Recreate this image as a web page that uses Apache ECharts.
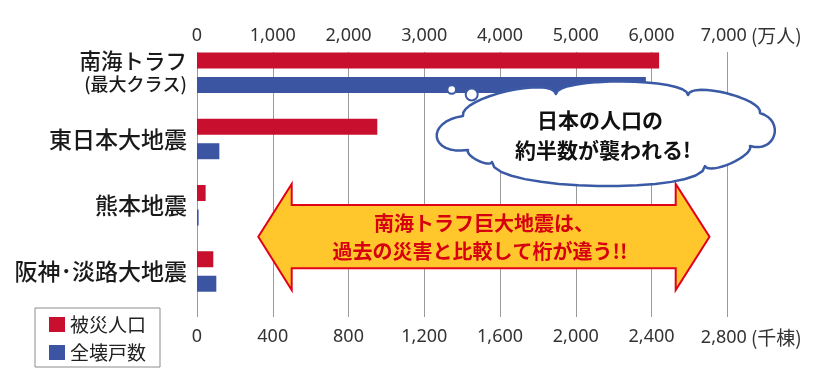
<!DOCTYPE html>
<html><head><meta charset="utf-8">
<script src="https://cdn.jsdelivr.net/npm/echarts@6/dist/echarts.min.js"></script>
<style>html,body{margin:0;padding:0;background:#fff}#c{width:840px;height:390px}</style>
</head><body><div id="c"></div>
<script>
// ---- data ----
const categories = ['南海トラフ\n(最大クラス)', '東日本大地震', '熊本地震', '阪神･淡路大地震'];
const seriesNames = ['被災人口', '全壊戸数'];
const affectedPopulation = [6100, 2380, 114, 215];   // 万人
const collapsedBuildings = [2370, 118, 8.6, 102];    // 千棟
const popTicks = [0, 1000, 2000, 3000, 4000, 5000, 6000, 7000];
const bldTicks = [0, 400, 800, 1200, 1600, 2000, 2400, 2800];
const popUnit = '(万人)';
const bldUnit = '(千棟)';
const cloudLines = ['日本の人口の', '約半数が襲われる!'];
const arrowLines = ['南海トラフ巨大地震は、', '過去の災害と比較して桁が違う!!'];

const RED = '#c8102e', BLUE = '#3c55a3';
const NUM_FONT = '"Noto Sans", "Noto Sans CJK JP", sans-serif';
const JP_FONT = '"Noto Sans CJK JP", "Noto Sans", sans-serif';

// ---- decoration geometry (annotation shapes) ----
function lobe(p1, p2, s) {
  const dx = p2[0] - p1[0], dy = p2[1] - p1[1];
  const len = Math.hypot(dx, dy);
  const nx = dy / len, ny = -dx / len;
  const k = 4 * s / 3;
  const c1 = [p1[0] + nx * k, p1[1] + ny * k];
  const c2 = [p2[0] + nx * k, p2[1] + ny * k];
  const pts = [];
  for (let i = 0; i < 16; i++) {
    const t = i / 16, u = 1 - t;
    pts.push([
      u*u*u*p1[0] + 3*u*u*t*c1[0] + 3*u*t*t*c2[0] + t*t*t*p2[0],
      u*u*u*p1[1] + 3*u*u*t*c1[1] + 3*u*t*t*c2[1] + t*t*t*p2[1]
    ]);
  }
  return pts;
}
const J = [[463,116],[556,94],[688,95],[760,113],[750,146],[705,166],[492,162],[468,150]];
const S = [14, 13, 11, 20, 8, 22, 5, 29];
let cloudPts = [];
for (let i = 0; i < J.length; i++) cloudPts = cloudPts.concat(lobe(J[i], J[(i+1) % J.length], S[i]));

const arrowPts = [[258.3,236.7],[291.7,184],[291.7,205],[675.7,205],[675.7,184],[709.5,236.7],
                  [675.7,290],[675.7,268.3],[291.7,268.3],[291.7,290]];

const chart = echarts.init(document.getElementById('c'), null, {renderer: 'canvas'});
const fmt = v => v.toLocaleString('en-US');
const unitFmt = (ticks, unit) => v =>
  v === ticks[ticks.length - 1] ? '{p|}' + fmt(v) + '{u|' + unit + '}' : fmt(v);
const unitRich = {
  p: { width: 48 },
  u: { fontFamily: JP_FONT, fontSize: 19, color: '#333', padding: [0, 0, 0, 4] }
};

chart.setOption({
  animation: false,
  backgroundColor: '#fff',
  grid: { left: 197, top: 52, width: 530.3, height: 265, outerBoundsMode: 'none', containLabel: false },
  legend: {
    data: seriesNames, orient: 'vertical', left: 35, top: 308,
    itemWidth: 16, itemHeight: 15, itemGap: 9, icon: 'rect',
    padding: [7, 14, 5, 14], borderColor: '#8c8c8c', borderWidth: 1, borderRadius: 0,
    textStyle: { fontFamily: JP_FONT, fontSize: 19, color: '#222' }, selectedMode: false
  },
  xAxis: [
    { type: 'value', position: 'top', min: popTicks[0], max: popTicks[popTicks.length-1],
      interval: popTicks[1] - popTicks[0],
      axisLine: {show: false}, axisTick: {show: false},
      axisLabel: { formatter: unitFmt(popTicks, popUnit), rich: unitRich, margin: 7,
                   fontFamily: NUM_FONT, fontSize: 18, color: '#333' },
      splitLine: { show: true, lineStyle: { color: '#9a9a9a', width: 1 } }
    },
    { type: 'value', position: 'bottom', min: bldTicks[0], max: bldTicks[bldTicks.length-1],
      interval: bldTicks[1] - bldTicks[0],
      axisLine: {show: false}, axisTick: {show: false},
      axisLabel: { formatter: unitFmt(bldTicks, bldUnit), rich: unitRich, margin: 11,
                   fontFamily: NUM_FONT, fontSize: 18, color: '#333' },
      splitLine: { show: false }
    }
  ],
  yAxis: {
    type: 'category', data: categories, inverse: true,
    axisLine: {show: false}, axisTick: {show: false}, splitLine: {show: false},
    axisLabel: {
      margin: 10, padding: [0,0,25,0], color: '#1a1a1a',
      formatter: v => {
        const parts = v.split('\n');
        return parts.length > 1 ? '{c|' + parts[0] + '}\n{b|' + parts[1] + '}' : '{a|' + v + '}';
      },
      rich: {
        a: { fontFamily: JP_FONT, fontSize: 23, fontWeight: 500, color: '#1a1a1a', lineHeight: 24, align: 'right' },
        c: { fontFamily: JP_FONT, fontSize: 21.5, fontWeight: 500, color: '#1a1a1a', lineHeight: 24, align: 'right' },
        b: { fontFamily: JP_FONT, fontSize: 18, fontWeight: 500, color: '#1a1a1a', lineHeight: 24, align: 'right' }
      }
    }
  },
  series: [
    { name: seriesNames[0], type: 'bar', xAxisIndex: 0, data: affectedPopulation,
      barWidth: 16, barGap: '53%', itemStyle: { color: RED }, z: 3 },
    { name: seriesNames[1], type: 'bar', xAxisIndex: 1, data: collapsedBuildings,
      barWidth: 16, barGap: '53%', itemStyle: { color: BLUE }, z: 3 },
    { name: 'spacer', type: 'bar', xAxisIndex: 0, data: categories.map(() => '-'),
      barWidth: 16.3, barGap: '53%', silent: true, itemStyle: { color: 'transparent' } }
  ],
  graphic: [
    { type: 'polygon', z: 50, shape: { points: arrowPts },
      style: { fill: '#ffc72c', stroke: '#e2001a', lineWidth: 2 } },
    { type: 'text', z: 51, x: 484, y: 223,
      style: { text: arrowLines[0], fill: '#d6000f', font: 'bold 20px ' + JP_FONT, align: 'center', verticalAlign: 'middle' } },
    { type: 'text', z: 51, x: 480, y: 251.5,
      style: { text: arrowLines[1], fill: '#d6000f', font: 'bold 20px ' + JP_FONT, align: 'center', verticalAlign: 'middle' } },
    { type: 'polygon', z: 52, shape: { points: cloudPts },
      style: { fill: '#fff', stroke: '#3b5aa5', lineWidth: 2.5, lineJoin: 'round' } },
    { type: 'circle', z: 52, shape: { cx: 451.7, cy: 89.5, r: 4.3 },
      style: { fill: '#fff', stroke: '#3b5aa5', lineWidth: 2 } },
    { type: 'circle', z: 52, shape: { cx: 471.7, cy: 94.5, r: 6 },
      style: { fill: '#fff', stroke: '#3b5aa5', lineWidth: 2 } },
    { type: 'text', z: 53, x: 600, y: 120,
      style: { text: cloudLines[0], fill: '#111', font: 'bold 21px ' + JP_FONT, align: 'center', verticalAlign: 'middle' } },
    { type: 'text', z: 53, x: 603, y: 150,
      style: { text: cloudLines[1], fill: '#111', font: 'bold 21px ' + JP_FONT, align: 'center', verticalAlign: 'middle' } }
  ]
});
</script></body></html>
